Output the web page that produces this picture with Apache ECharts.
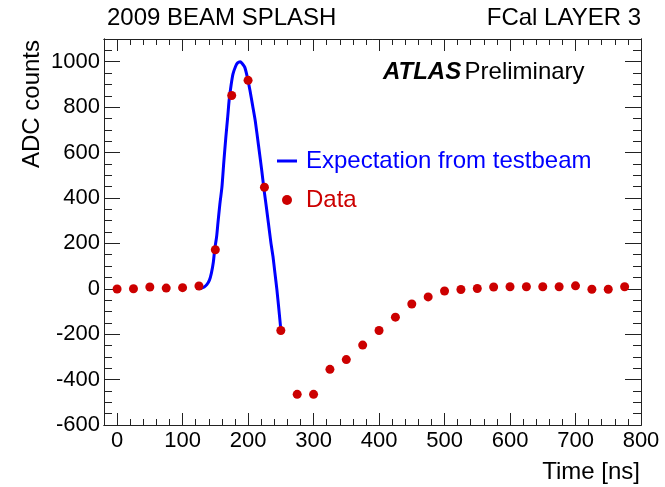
<!DOCTYPE html>
<html>
<head>
<meta charset="utf-8">
<script src="https://cdn.jsdelivr.net/npm/echarts@6/dist/echarts.min.js"></script>
<style>html,body{margin:0;padding:0;background:#fff}#c{width:665px;height:487px}</style>
</head>
<body>
<div id="c"></div>
<script>
// Tick labels
const xTicks = [0, 100, 200, 300, 400, 500, 600, 700, 800];
const yTicks = [-600, -400, -200, 0, 200, 400, 600, 800, 1000];
// Data points (time in ns, ADC counts)
const dataTime = [0, 25, 50, 75, 100, 125, 150, 175, 200, 225, 250, 275, 300, 325, 350, 375, 400, 425, 450, 475, 500, 525, 550, 575, 600, 625, 650, 675, 700, 725, 750, 775];
const dataADC = [-1, 0, 8, 3, 5, 12, 172, 851, 918, 447, -184, -465, -465, -355, -312, -248, -184, -125, -67, -36, -10, -3, 1, 8, 9, 9, 9, 9, 13, -2, -2, 9];
// Expectation from testbeam (curve)
const expTime = [125, 129, 133, 137, 141, 144, 147, 149, 152, 154, 157, 160, 163, 166, 169, 171, 174, 177, 181, 184, 188, 191, 195, 199, 203, 207, 211, 216, 221, 224, 228, 231, 235, 238, 241, 244, 247, 250];
const expADC = [0, 3, 8, 18, 38, 69, 118, 172, 230, 290, 375, 445, 560, 666, 760, 828, 895, 946, 980, 995, 1000, 992, 975, 930, 872, 806, 739, 630, 518, 445, 358, 290, 200, 143, 70, -4, -90, -180];

const FONT = 'Liberation Sans, Arial, Helvetica, sans-serif';
const AX = '#222';
const gridPos = {left: 104, top: 39, width: 537, height: 386};

function xAx(grid, pos, major) {
  const a = {
    type: 'value', gridIndex: grid, position: pos, min: -20, max: 800,
    axisLine: {show: true, onZero: false, lineStyle: {color: AX, width: 1}},
    splitLine: {show: false},
    axisTick: {show: true, inside: true, length: major ? 12 : 6, lineStyle: {color: AX, width: 1}},
    axisLabel: {show: false}
  };
  if (major) {
    a.axisTick.customValues = xTicks;
    a.axisLabel = {show: pos === 'bottom', customValues: xTicks, color: '#000', fontSize: 22, fontFamily: FONT, margin: 5, formatter: v => String(v)};
  } else {
    a.interval = 20;
  }
  return a;
}
function yAx(grid, pos, major) {
  const a = {
    type: 'value', gridIndex: grid, position: pos, min: -600, max: 1100,
    axisLine: {show: true, onZero: false, lineStyle: {color: AX, width: 1}},
    splitLine: {show: false},
    axisTick: {show: true, inside: true, length: major ? 16 : 8, lineStyle: {color: AX, width: 1}},
    axisLabel: {show: false}
  };
  if (major) {
    a.axisTick.customValues = yTicks;
    a.axisLabel = {show: pos === 'left', customValues: yTicks, color: '#000', fontSize: 22, fontFamily: FONT, margin: 4, formatter: v => String(v)};
  } else {
    a.interval = 50;
  }
  return a;
}

const chart = echarts.init(document.getElementById('c'), null, {renderer: 'canvas'});
chart.setOption({
  animation: false,
  backgroundColor: '#fff',
  grid: [Object.assign({}, gridPos), Object.assign({}, gridPos)],
  xAxis: [xAx(0, 'bottom', false), xAx(0, 'top', false), xAx(1, 'bottom', true), xAx(1, 'top', true)],
  yAxis: [yAx(0, 'left', false), yAx(0, 'right', false), yAx(1, 'left', true), yAx(1, 'right', true)],
  series: [
    {
      name: 'Expectation from testbeam', type: 'line', xAxisIndex: 0, yAxisIndex: 0,
      data: expTime.map((t, i) => [t, expADC[i]]),
      showSymbol: false, smooth: 0.2,
      lineStyle: {color: '#0000ff', width: 3}, z: 2
    },
    {
      name: 'Data', type: 'scatter', xAxisIndex: 0, yAxisIndex: 0,
      data: dataTime.map((t, i) => [t, dataADC[i]]),
      symbol: 'circle', symbolSize: 9,
      itemStyle: {color: '#cc0000', opacity: 1}, z: 3
    }
  ],
  graphic: [
    {type: 'text', x: 107, y: 18, style: {text: '2009 BEAM SPLASH', font: '24px ' + FONT, fill: '#000', align: 'left', verticalAlign: 'middle'}},
    {type: 'text', x: 641, y: 18, style: {text: 'FCal LAYER 3', font: '24px ' + FONT, fill: '#000', align: 'right', verticalAlign: 'middle'}},
    {type: 'text', x: 383, y: 72, style: {
      text: '{a|ATLAS} {b|Preliminary}', align: 'left', verticalAlign: 'middle',
      rich: {a: {fontSize: 24, fontWeight: 'bold', fontStyle: 'italic', fontFamily: FONT, fill: '#000'}, b: {fontSize: 24, fontFamily: FONT, fill: '#000'}}
    }},
    {type: 'line', shape: {x1: 277, y1: 161, x2: 297, y2: 161}, style: {stroke: '#0000ff', lineWidth: 3}},
    {type: 'text', x: 306, y: 161, style: {text: 'Expectation from testbeam', font: '24px ' + FONT, fill: '#0000ff', align: 'left', verticalAlign: 'middle'}},
    {type: 'circle', shape: {cx: 287, cy: 200, r: 5}, style: {fill: '#cc0000'}},
    {type: 'text', x: 306, y: 200, style: {text: 'Data', font: '24px ' + FONT, fill: '#cc0000', align: 'left', verticalAlign: 'middle'}},
    {type: 'text', x: 32, y: 40, rotation: Math.PI / 2, style: {text: 'ADC counts', font: '24px ' + FONT, fill: '#000', align: 'right', verticalAlign: 'middle'}},
    {type: 'text', x: 640, y: 472, style: {text: 'Time [ns]', font: '24px ' + FONT, fill: '#000', align: 'right', verticalAlign: 'middle'}}
  ]
});
</script>
</body>
</html>
